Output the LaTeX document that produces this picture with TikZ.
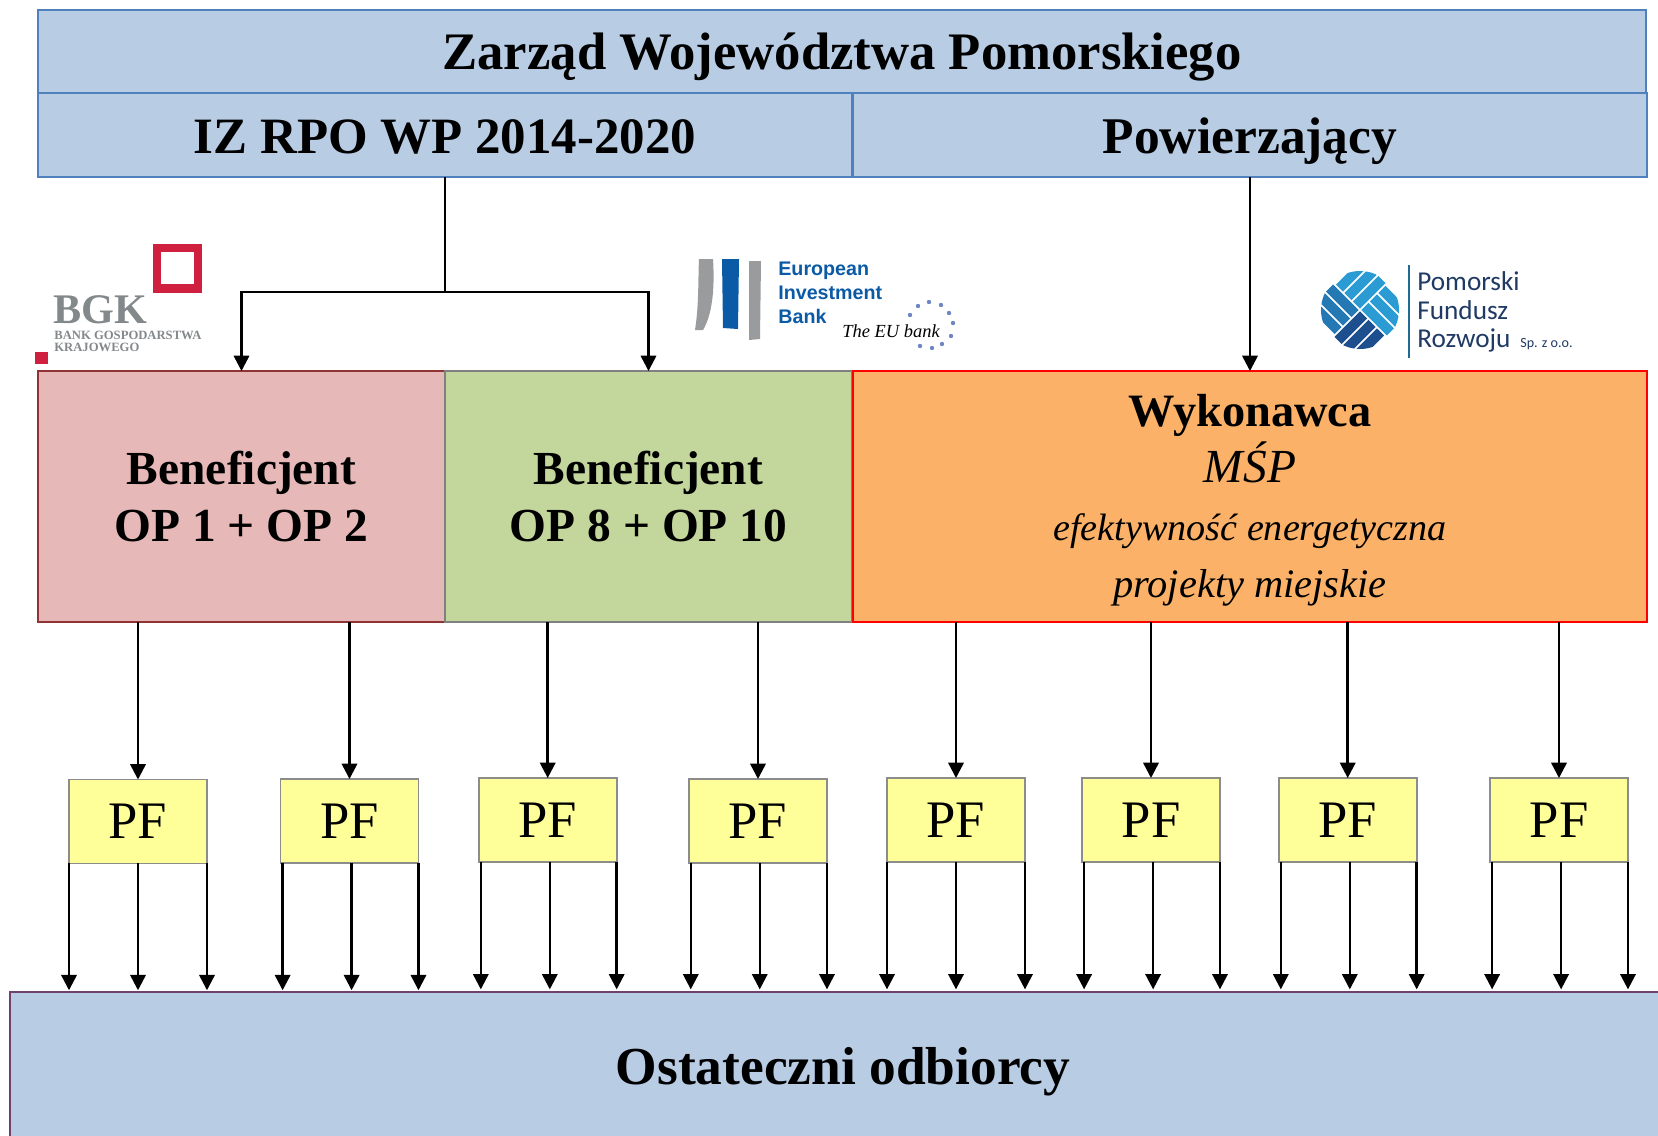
\documentclass[tikz,border=0pt]{standalone}
\usepackage{fontspec}
\setmainfont{Liberation Serif}
\newfontfamily\logofont{Carlito}
\newfontfamily\eibfont{Liberation Sans}
\usetikzlibrary{arrows.meta}
\definecolor{headfill}{HTML}{B8CCE4}
\definecolor{headline}{HTML}{4F81BD}
\definecolor{pinkfill}{HTML}{E6B8B7}
\definecolor{greenfill}{HTML}{C3D69B}
\definecolor{orangefill}{HTML}{FBB268}
\definecolor{pffill}{HTML}{FFFF99}
\definecolor{bgkred}{HTML}{D0203F}
\definecolor{bgkgray}{HTML}{83888B}
\definecolor{eibblue}{HTML}{0B5AA6}
\definecolor{eibgray}{HTML}{9A9B9D}
\definecolor{eibstar}{HTML}{6F86C4}
\definecolor{pfrnavy}{HTML}{1F3A63}
\definecolor{pfrlight}{HTML}{2B9BD3}
\definecolor{pfrmid}{HTML}{2478B4}
\definecolor{pfrdark}{HTML}{1D4F8E}
\tikzset{
	box/.style={draw, line width=1pt, inner sep=0pt, outer sep=0pt, align=center},
	headbox/.style={box, draw=headline, fill=headfill, text height=21pt, text depth=0pt, font=\fontsize{29.3}{32}\selectfont\bfseries},
	midbox/.style={box, minimum width=8.14cm, minimum height=5.02cm, font=\fontsize{27}{32.5}\selectfont\bfseries},
	wyktext/.style={anchor=base, inner sep=0pt, font=\fontsize{#1}{32}\selectfont\itshape},
	pfbox/.style={box, draw=black!45, fill=pffill, minimum width=2.76cm, minimum height=1.68cm, font=\fontsize{30}{32}\selectfont},
	conn/.style={-{Triangle[length=8.7pt,width=8.7pt]}, line width=1.4pt},
	logotext/.style={anchor=base west, inner sep=0pt},
}
\begin{document}
\begin{tikzpicture}[x=0.02cm,y=-0.02cm]
	\useasboundingbox (0,0) rectangle (1658,1136);
	\clip (0,0) rectangle (1658,1136);
	% top boxes
	\node [headbox, minimum width=32.16cm, minimum height=1.66cm, font=\fontsize{30}{32}\selectfont\bfseries] (zarzad) at (842,51.5) {Zarząd Województwa Pomorskiego};
	\node [headbox, minimum width=16.28cm, minimum height=1.68cm, font=\fontsize{29}{32}\selectfont\bfseries] (iz) at (445,135) {IZ RPO WP 2014-2020};
	\node [headbox, minimum width=15.88cm, minimum height=1.68cm] (powierz) at (1250,135) {Powierzający};
	% middle boxes
	\node [midbox, draw=red!45!black!80, fill=pinkfill] (ben1) at (241.5,496.5) {Beneficjent\\OP 1 + OP 2};
	\node [midbox, draw=black!50, fill=greenfill] (ben2) at (648.5,496.5) {Beneficjent\\OP 8 + OP 10};
	\node [midbox, minimum width=15.88cm, draw=red, fill=orangefill] (wyk) at (1250,496.5) {};
	\node [anchor=base, inner sep=0pt, font=\fontsize{26.4}{32}\selectfont\bfseries] (wyka) at (1250,426) {Wykonawca};
	\node [wyktext=27] (wykb) at (1250,482) {MŚP};
	\node [wyktext=21.7] (wykc) at (1250,540) {efektywność energetyczna};
	\node [wyktext=23] (wykd) at (1250,597) {projekty miejskie};
	% bottom box
	\node [headbox, draw=violet!50!black!75, minimum width=33.32cm, minimum height=2.96cm, font=\fontsize{30.4}{32}\selectfont\bfseries] (odb) at (843,1066) {Ostateczni odbiorcy};
	% PF row
	\foreach \i/\x/\y/\src/\s/\g in {1/138/821.5/ben1/0/1, 2/349.5/821/ben1/1.2/1, 3/547.7/820/ben2/1.2/1.5, 4/758/821/ben2/1/1.5, 5/956/820/wyk/0/1.5, 6/1151/820/wyk/1.2/1.5, 7/1347.7/820/wyk/1.2/1.5, 8/1559/820/wyk/1.2/1.5} {
		\node [pfbox] (pf\i) at (\x,\y) {PF};
		\draw [conn] (pf\i.north |- \src.south) -- (pf\i.north);
		\foreach \a/\d in {south west/\s, south/\s, south east/0}
			\draw [conn, shorten >=\g pt] ([xshift=\d pt]pf\i.\a) -- ([xshift=\d pt]pf\i.\a |- odb.north);
	}
	% upper connectors
	\coordinate (split) at (445,292);
	\draw [line width=1.4pt] (iz.south) -- (split);
	\draw [conn] (split) -| (ben1.north);
	\draw [conn] (split) -| (ben2.north);
	\draw [conn] (powierz.south) -- (powierz.south |- wyk.north);
	% BGK logo
	\fill [bgkred] (153,244) rectangle (201.5,292.5);
	\fill [white] (161,252) rectangle (194,284);
	\fill [bgkred] (35,352) rectangle (48,364);
	\node [logotext, text=bgkgray, font=\fontsize{24}{26}\selectfont\bfseries] (bgk) at (53,323) {BGK};
	\node [logotext, text=bgkgray, font=\fontsize{7.2}{8}\selectfont\bfseries] (bgka) at (54,339.5) {BANK GOSPODARSTWA};
	\node [logotext, text=bgkgray, font=\fontsize{7.2}{8}\selectfont\bfseries] (bgkb) at (54,351) {KRAJOWEGO};
	% EIB logo
	\fill [eibgray] (699,259) -- (713,259) .. controls (715,290) and (712,315) .. (703,330) -- (695,330) .. controls (699,305) and (698,280) .. (699,259);
	\fill [eibblue] (722,259) -- (739,259) -- (738,329) -- (723,328) -- cycle;
	\fill [eibgray] (749,261) -- (761,261) -- (760,339) -- (749,340) -- cycle;
	\foreach \n/\t/\y in {eiba/European/275, eibb/Investment/299, eibc/Bank/323}
		\node [logotext, text=eibblue, font=\eibfont\fontsize{11.2}{12}\selectfont\bfseries] (\n) at (778,\y) {\t};
	\node [logotext, font=\fontsize{10.5}{12}\selectfont\itshape] (eibd) at (842,337) {The EU bank};
	\foreach \sx/\sy in {918/306, 929/302, 941/305, 949/313, 953/323, 951/336, 942/344, 932/348, 920/346, 910/315}
		\fill [eibstar] (\sx,\sy) circle (2.2);
	% PFR logo
	\begin{scope}[shift={(1360,310)}, rotate=45]
		\clip (0,0) circle (39);
		\foreach \p in {1,13,25} {
			\fill [pfrlight] (1,-\p) rectangle (37,-\p-10);
			\fill [pfrlight] (\p,1) rectangle (\p+10,37);
			\fill [pfrdark] (-1,\p) rectangle (-37,\p+10);
			\fill [pfrmid] (-\p,-1) rectangle (-\p-10,-37);
		}
	\end{scope}
	\draw [pfrlight!70!black, line width=0.8pt] (1409,265) -- (1409,358);
	\foreach \n/\t/\y in {pfra/Pomorski/290, pfrb/Fundusz/319, pfrc/Rozwoju/347}
		\node [logotext, text=pfrnavy, font=\logofont\fontsize{15.5}{16}\selectfont] (\n) at (1417,\y) {\t};
	\node [logotext, text=pfrnavy, font=\logofont\fontsize{8}{9}\selectfont] (pfrd) at (1520,347) {Sp. z o.o.};
\end{tikzpicture}
\end{document}
